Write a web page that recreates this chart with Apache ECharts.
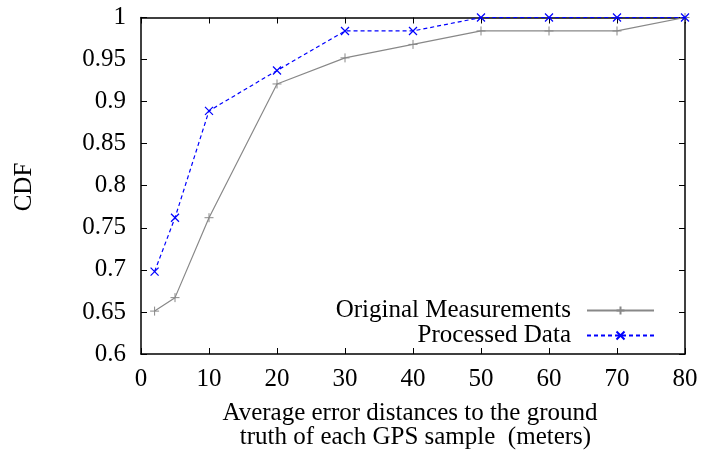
<!DOCTYPE html>
<html>
<head>
<meta charset="utf-8">
<script src="https://cdn.jsdelivr.net/npm/echarts@6/dist/echarts.min.js"></script>
<style>
  html, body { margin: 0; padding: 0; background: #fff; }
  #chart { width: 702px; height: 457px; }
</style>
</head>
<body>
<div id="chart"></div>
<script>
// Error distance thresholds (meters) and cumulative fractions of GPS samples
const distances = [2, 5, 10, 20, 30, 40, 50, 60, 70, 80];
const originalCdf = [0.651, 0.667, 0.762, 0.921, 0.952, 0.968, 0.984, 0.984, 0.984, 1];
const processedCdf = [0.698, 0.762, 0.889, 0.937, 0.984, 0.984, 1, 1, 1, 1];
const seriesNames = ['Original Measurements', 'Processed Data'];
const xTitleLines = ['Average error distances to the ground', 'truth of each GPS sample  (meters)'];
const yTitle = 'CDF';

const FONT = '"Liberation Serif", "DejaVu Serif", serif';
const FS = 25;
const plusSymbol = 'path://M0,5L10,5M5,0L5,10';
const crossSymbol = 'path://M0,0L10,10M0,10L10,0';

const pairs = (xs, ys) => xs.map((x, i) => [x, ys[i]]);

const frameAxis = {
  axisLine: { show: true, onZero: false, lineStyle: { color: '#000', width: 1.5 } },
  axisTick: { show: true, inside: true, length: 6, lineStyle: { color: '#000', width: 1 } },
  splitLine: { show: false }
};

const legendText = { color: '#000', fontFamily: FONT, fontSize: FS, padding: [0, 11, 0, 0] };

const chart = echarts.init(document.getElementById('chart'), null, { renderer: 'canvas' });
chart.setOption({
  animation: false,
  backgroundColor: '#fff',
  textStyle: { fontFamily: FONT },
  grid: { left: 141, right: 17, top: 17.5, bottom: 103 },
  xAxis: [
    Object.assign({
      type: 'value', min: 0, max: 80, interval: 10, position: 'bottom',
      axisLabel: { color: '#000', fontFamily: FONT, fontSize: FS, margin: 13 }
    }, frameAxis),
    Object.assign({
      type: 'value', min: 0, max: 80, interval: 10, position: 'top',
      axisLabel: { show: false }
    }, frameAxis)
  ],
  yAxis: [
    Object.assign({
      type: 'value', min: 0.6, max: 1, interval: 0.05, position: 'left',
      axisLabel: { color: '#000', fontFamily: FONT, fontSize: FS, margin: 15 }
    }, frameAxis),
    Object.assign({
      type: 'value', min: 0.6, max: 1, interval: 0.05, position: 'right',
      axisLabel: { show: false }
    }, frameAxis)
  ],
  legend: [
    {
      data: [seriesNames[0]], align: 'right', right: 47, top: 298, padding: 0,
      itemWidth: 67, itemHeight: 10, textStyle: legendText
    },
    {
      data: [seriesNames[1]], align: 'right', right: 47, top: 323, padding: 0,
      itemWidth: 67, itemHeight: 10, textStyle: legendText
    }
  ],
  graphic: [
    {
      type: 'text', x: 24, y: 187, rotation: Math.PI / 2,
      style: { text: yTitle, fill: '#000', font: FS + 'px ' + FONT, align: 'center', verticalAlign: 'middle' }
    },
    {
      type: 'text', x: 410, y: 413,
      style: { text: xTitleLines[0], fill: '#000', font: FS + 'px ' + FONT, align: 'center', verticalAlign: 'middle' }
    },
    {
      type: 'text', x: 415.5, y: 437,
      style: { text: xTitleLines[1], fill: '#000', font: FS + 'px ' + FONT, align: 'center', verticalAlign: 'middle' }
    }
  ],
  series: [
    {
      name: seriesNames[0], type: 'line', data: pairs(distances, originalCdf),
      symbol: plusSymbol, symbolSize: 9,
      itemStyle: { color: '#888888', borderColor: '#888888', borderWidth: 1 },
      lineStyle: { color: '#888888', width: 1.2, type: 'solid' },
      z: 2
    },
    {
      name: seriesNames[1], type: 'line', data: pairs(distances, processedCdf),
      symbol: crossSymbol, symbolSize: 8,
      itemStyle: { color: '#0000ff', borderColor: '#0000ff', borderWidth: 1.2 },
      lineStyle: { color: '#0000ff', width: 1.2, type: [4, 3] },
      z: 3
    }
  ]
});
</script>
</body>
</html>
